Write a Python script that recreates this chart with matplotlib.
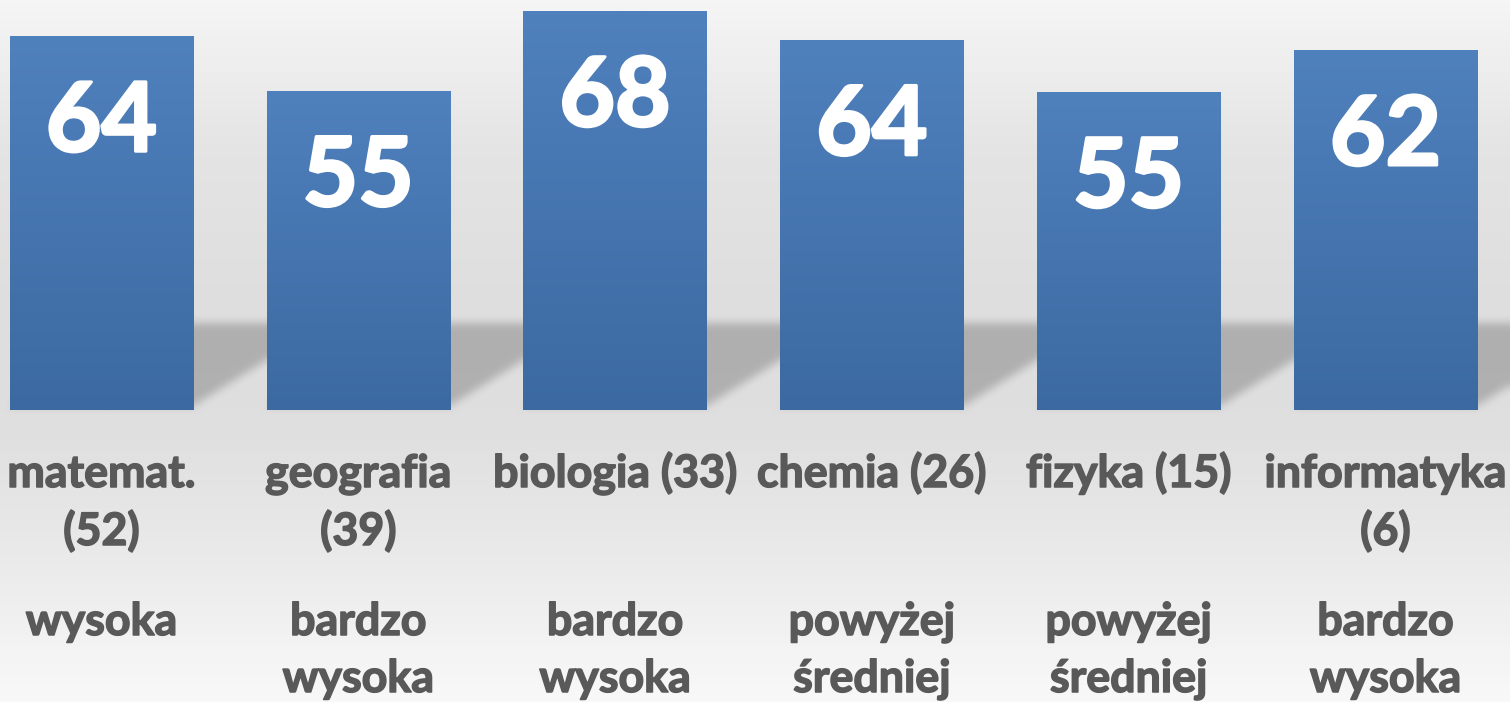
import numpy as np
import matplotlib
matplotlib.use("Agg")
import matplotlib.pyplot as plt
from matplotlib import transforms as mtrans
from matplotlib.colors import LinearSegmentedColormap
import matplotlib.patheffects as pe

# ---- data ----
categories = ["matemat.\n(52)", "geografia\n(39)", "biologia (33)",
              "chemia (26)", "fizyka (15)", "informatyka\n(6)"]
values = [64.2, 55.1, 68.4, 63.6, 54.9, 61.9]   # bar heights
levels = ["wysoka", "bardzo\nwysoka", "bardzo\nwysoka",
          "powyżej\nśredniej", "powyżej\nśredniej", "bardzo\nwysoka"]
axis_min = 1.9

# ---- figure ----
W, H, DPI = 1510, 702, 100
fig = plt.figure(figsize=(W / DPI, H / DPI), dpi=DPI)
ax = fig.add_axes([0, 0, 1, 1])
XLIM = (-0.395, 5.485)
YLIM = (axis_min - 292 / 6.0, axis_min + 410 / 6.0)
ax.set_xlim(*XLIM)
ax.set_ylim(*YLIM)
ax.axis('off')

x = np.arange(len(values))
bar_w = 0.713
heights = np.array(values) - axis_min
bars = ax.bar(x, heights, bottom=axis_min, width=bar_w, color='#4a7ab5',
              zorder=3, linewidth=0)

# ---- background gradient with perspective shadow ----
fig.canvas.draw()
yy = np.arange(H)
stops_y = [0, 150, 300, 430, 560, H - 1]
stops_v = [0.962, 0.895, 0.872, 0.875, 0.92, 0.975]
col = np.interp(yy, stops_y, stops_v)
bg = np.repeat(col[:, None], W, axis=1)

mask = np.zeros((H, W))
xs = np.arange(W)
base_px = H - ax.transData.transform((0, axis_min))[1]  # baseline, px from top
sh_bot = base_px - 5
sh_top = base_px - 87
slope = 0.62
for b in bars:
    xl = ax.transData.transform((b.get_x(), 0))[0]
    xr = ax.transData.transform((b.get_x() + b.get_width(), 0))[0]
    for r in range(int(sh_top), int(sh_bot) + 1):
        shift = (sh_bot - r) / slope
        mask[r, (xs >= xl + shift) & (xs <= xr + shift)] = 1.0


def box_blur(a, k):
    pad = k // 2
    a = np.pad(a, ((pad, pad), (0, 0)), mode='edge')
    c = np.cumsum(np.vstack([np.zeros((1, a.shape[1])), a]), axis=0)
    a = (c[k:] - c[:-k]) / k
    a = np.pad(a, ((0, 0), (pad, pad)), mode='edge')
    c = np.cumsum(np.hstack([np.zeros((a.shape[0], 1)), a]), axis=1)
    return (c[:, k:] - c[:, :-k]) / k


mask = box_blur(box_blur(mask, 11), 9)[:H, :W]
img = bg * (1 - 0.21 * mask)
ax.imshow(np.dstack([img, img, img]), extent=(*XLIM, *YLIM),
          origin='upper', aspect='auto', zorder=0, interpolation='bilinear')
ax.set_xlim(*XLIM)
ax.set_ylim(*YLIM)

# ---- gradient fill on bars ----
cmap = LinearSegmentedColormap.from_list('barg', ['#4F81BD', '#3C69A1'])
grad = np.linspace(0, 1, 256).reshape(-1, 1)
for b in bars:
    im = ax.imshow(grad, cmap=cmap,
                   extent=(b.get_x(), b.get_x() + b.get_width(),
                           b.get_y(), b.get_y() + b.get_height()),
                   origin='upper', aspect='auto', zorder=4)
    im.set_clip_path(b)

# ---- value labels ----
for xi, v in zip(x, values):
    ax.annotate(f"{v:.0f}", (xi, v), xytext=(0, -115 * 72 / DPI),
                textcoords='offset points', ha='center', va='baseline',
                fontsize=69, family='Lato', weight='bold', color='white', zorder=6,
                path_effects=[pe.withStroke(linewidth=2.2, foreground='white')])

# ---- category / level labels ----
trans = mtrans.blended_transform_factory(ax.transData, fig.transFigure)
kw = dict(family='Lato', weight='bold', color='#595959', fontsize=32.2,
          ha='center', va='baseline', zorder=6,
          path_effects=[pe.withStroke(linewidth=1.1, foreground='#595959')])


def place(xc, text, y0, step):
    for k, line in enumerate(text.split('\n')):
        ax.text(xc, 1 - (y0 + k * step) / H, line, transform=trans, **kw)


for xi, c, lv in zip(x, categories, levels):
    place(xi, c, 487, 58)
    place(xi, lv, 635, 57)

fig.savefig('out.png', dpi=DPI)
